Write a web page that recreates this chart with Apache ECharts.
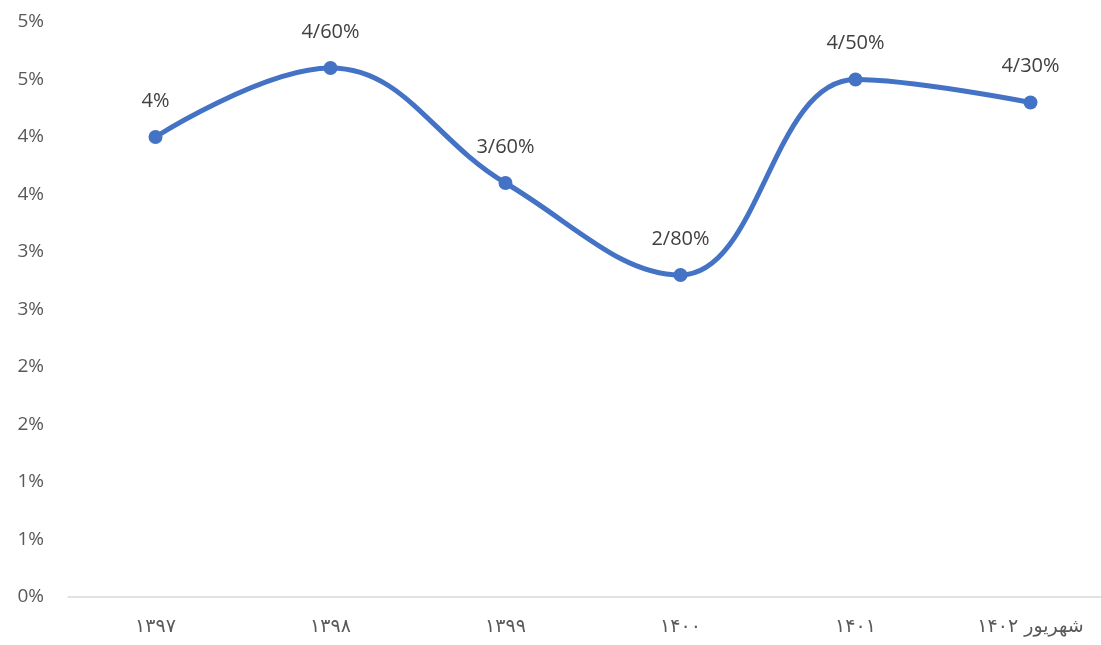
<!DOCTYPE html>
<html>
<head>
<meta charset="utf-8">
<script src="https://cdn.jsdelivr.net/npm/echarts@6/dist/echarts.min.js"></script>
<style>
	html, body { margin: 0; padding: 0; background: #fff; }
	#chart { width: 1101px; height: 645px; }
</style>
</head>
<body>
<div id="chart"></div>
<script>
// سال ها
var years = ['۱۳۹۷', '۱۳۹۸', '۱۳۹۹', '۱۴۰۰', '۱۴۰۱', 'شهریور ۱۴۰۲'];
// درصد
var values = [4, 4.6, 3.6, 2.8, 4.5, 4.3];
var yTicks = [0, 0.5, 1, 1.5, 2, 2.5, 3, 3.5, 4, 4.5, 5];

var chart = echarts.init(document.getElementById('chart'));

function pctLabel(v) {
	if (v % 1 === 0) {
		return v + '%';
	}
	return v.toFixed(2).replace('.', '/') + '%';
}

var option = {
	animation: false,
	grid: {
		left: 68,
		top: 22,
		right: -17,
		bottom: 48,
		outerBoundsMode: 'none'
	},
	xAxis: {
		type: 'category',
		data: years,
		boundaryGap: true,
		axisLine: {
			lineStyle: {
				color: '#d9d9d9',
				width: 1.5
			}
		},
		axisTick: { show: false },
		axisLabel: {
			color: '#595959',
			fontSize: 19,
			fontFamily: 'DejaVu Sans',
			margin: 21,
			interval: 0
		}
	},
	yAxis: {
		type: 'value',
		min: yTicks[0],
		max: yTicks[yTicks.length - 1],
		interval: 0.5,
		axisLine: { show: false },
		axisTick: { show: false },
		splitLine: { show: false },
		axisLabel: {
			color: '#595959',
			fontSize: 19,
			fontFamily: 'Open Sans',
			margin: 24,
			formatter: function(v) {
				return Math.round(v) + '%';
			}
		}
	},
	series: [{
		type: 'line',
		data: values,
		smooth: 0.4,
		symbol: 'circle',
		symbolSize: 14,
		lineStyle: {
			color: '#4472c4',
			width: 5
		},
		itemStyle: {
			color: '#4472c4'
		},
		label: {
			show: true,
			position: 'top',
			distance: 19,
			color: '#404040',
			fontSize: 20,
			fontFamily: 'Open Sans',
			formatter: function(p) {
				return pctLabel(p.value);
			}
		}
	}]
};

chart.setOption(option);
</script>
</body>
</html>
